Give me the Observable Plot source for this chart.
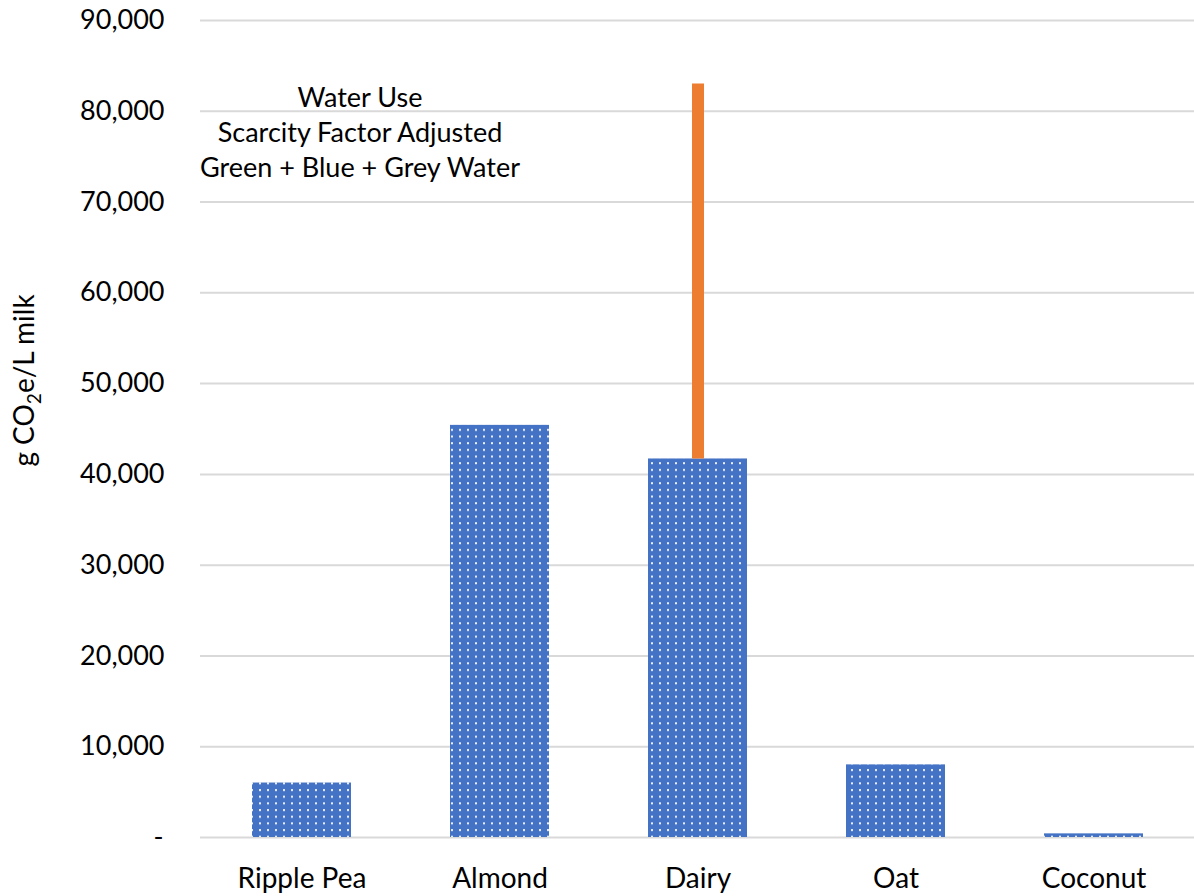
<!DOCTYPE html>
<html>
<head>
<meta charset="utf-8">
<script src="https://cdn.jsdelivr.net/npm/d3@7"></script>
<script src="https://cdn.jsdelivr.net/npm/@observablehq/plot@0.6"></script>
<style>
  html, body { margin: 0; padding: 0; background: #fff; }
  #chart { width: 1194px; height: 896px; }
</style>
</head>
<body>
<div id="chart"></div>
<script>
const categories = ["Ripple Pea", "Almond", "Dairy", "Oat", "Coconut"];
const values = [6000, 45400, 41700, 8000, 400];
const errorCategory = ["Dairy"];
const errorLow = [41700];
const errorHigh = [83000];
const yTicks = [0, 10000, 20000, 30000, 40000, 50000, 60000, 70000, 80000, 90000];
const annotationLines = ["Water Use", "Scarcity Factor Adjusted", "Green + Blue + Grey Water"];
const yLabelParts = ["g CO", "2", "e/L milk"];

const data = categories.map((c, i) => ({name: c, value: values[i]}));
const errData = errorCategory.map((c, i) => ({name: c, lo: errorLow[i], hi: errorHigh[i]}));

const FONT = "Lato, 'Open Sans', sans-serif";

const defsMark = () => {
  const defs = d3.create("svg:defs");
  const p = defs.append("pattern")
    .attr("id", "dots")
    .attr("patternUnits", "userSpaceOnUse")
    .attr("width", 8)
    .attr("height", 6.67);
  p.append("rect").attr("width", 8).attr("height", 6.67).attr("fill", "#4472C4");
  p.append("rect").attr("x", 3).attr("y", 2).attr("width", 2).attr("height", 2).attr("fill", "#ffffff").attr("fill-opacity", 0.9);
  return defs.node();
};

const yLabelMark = (index, scales, values, dims) => {
  const cy = (scales.y(0) + scales.y(90000)) / 2 - 48;
  const t = d3.create("svg:text")
    .attr("transform", `translate(34,${cy}) rotate(-90)`)
    .attr("text-anchor", "middle")
    .attr("font-family", FONT)
    .attr("font-size", 28)
    .attr("fill", "#000");
  t.append("tspan").text(yLabelParts[0]);
  t.append("tspan").attr("font-size", 19).attr("dy", 7).text(yLabelParts[1]);
  t.append("tspan").attr("dy", -7).text(yLabelParts[2]);
  return t.node();
};

const chart = Plot.plot({
  width: 1194,
  height: 896,
  marginTop: 20,
  marginBottom: 59,
  marginLeft: 200,
  marginRight: 0,
  style: {fontFamily: FONT, background: "#fff", color: "#000"},
  x: {domain: categories, paddingInner: 0.5, paddingOuter: 0.25, label: null},
  y: {domain: [0, 90000], label: null},
  marks: [
    defsMark,
    Plot.gridY(yTicks, {stroke: "#d9d9d9", strokeOpacity: 1, strokeWidth: 2}),
    Plot.axisY(yTicks.filter(d => d !== 0), {
      tickSize: 0, tickPadding: 36, fontSize: 27, fill: "#000",
      tickFormat: d => d3.format(",")(d), label: null
    }),
    Plot.axisY([0], {
      tickSize: 0, tickPadding: 37, fontSize: 27, fill: "#000",
      tickFormat: () => "-", label: null
    }),
    Plot.axisX({tickSize: 0, tickPadding: 31, fontSize: 28, fill: "#000", label: null}),
    Plot.barY(data, {x: "name", y: "value", fill: "url(#dots)"}),
    Plot.ruleX(errData, {x: "name", y1: "lo", y2: "hi", stroke: "#ED7D31", strokeWidth: 12}),
    Plot.text(annotationLines, {
      x: () => categories[0],
      y: () => 80000,
      dx: 58,
      text: d => d,
      fontSize: 27, fill: "#000"
    }),
    yLabelMark
  ]
});

document.getElementById("chart").appendChild(chart);

// stack annotation lines vertically
const ann = chart.querySelectorAll("g[aria-label='text'] text");
ann.forEach((el, i) => {
  el.setAttribute("dy", String(-13 + i * 35));
});
</script>
</body>
</html>
